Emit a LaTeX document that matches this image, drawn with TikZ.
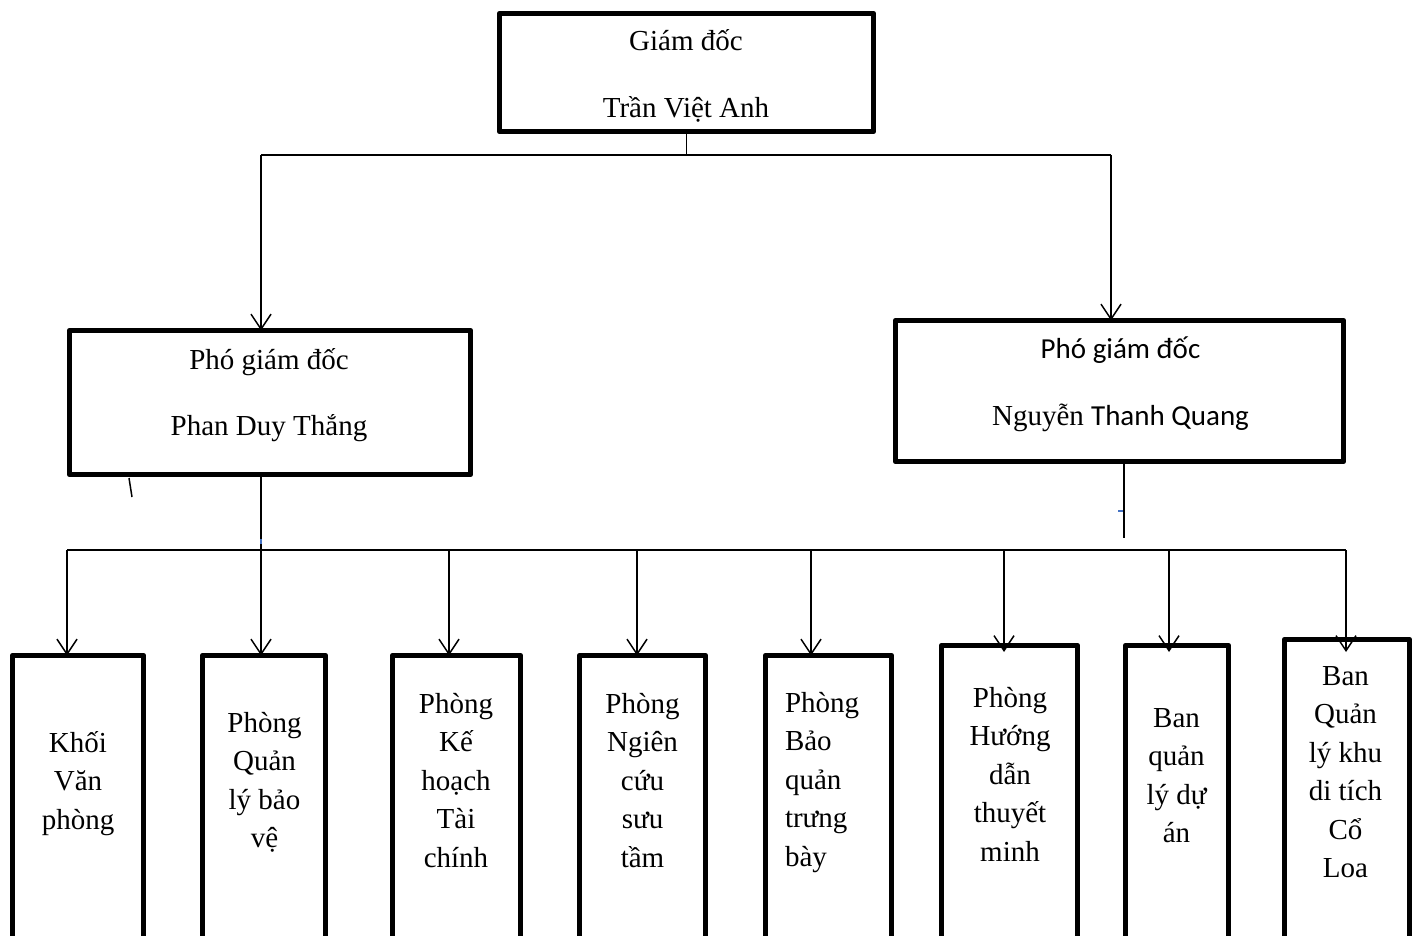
\documentclass[tikz,border=0pt]{standalone}
\usepackage{fontspec}
\setmainfont{Liberation Serif}
\newfontfamily\calibri{Carlito}
\usetikzlibrary{arrows.meta,calc}
\definecolor{tickblue}{RGB}{68,114,196}
\begin{document}
\begin{tikzpicture}[x=0.5pt,y=-0.5pt,
  box/.style={draw, line width=2.75pt, line join=round, inner sep=0pt, outer sep=0pt, anchor=north west},
  lbl/.style={inner sep=0pt, outer sep=0pt, anchor=base, font=\fontsize{14.5}{19.25}\selectfont},
  conn/.style={line width=0.75pt},
  arr/.style={conn, -{Straight Barb[length=7.5pt,width=10pt]}},
  tick/.style={draw=tickblue, line width=1pt}]
\clip (0,0) rectangle (1418,936);
% boxes
\node[box, minimum width=187pt, minimum height=59pt] (gd) at (499.5,13.5) {};
\node[box, minimum width=200.5pt, minimum height=72pt] (lvp) at (69.5,330.5) {};
\node[box, minimum width=224pt, minimum height=70.5pt] (rvp) at (895.5,320.5) {};
\node[box, minimum width=65.5pt, minimum height=152.25pt] (b1) at (12.5,655.5) {};
\node[box, minimum width=61.5pt, minimum height=152.25pt] (b2) at (202.5,655.5) {};
\node[box, minimum width=64pt, minimum height=152.25pt] (b3) at (392.5,655.5) {};
\node[box, minimum width=63pt, minimum height=152.25pt] (b4) at (579.5,655.5) {};
\node[box, minimum width=63pt, minimum height=152.25pt] (b5) at (765.5,655.5) {};
\node[box, minimum width=68pt, minimum height=157.25pt] (b6) at (941.5,645.5) {};
\node[box, minimum width=51.5pt, minimum height=157.25pt] (b7) at (1125.5,645.5) {};
\node[box, minimum width=62.5pt, minimum height=160.25pt] (b8) at (1284.5,639.5) {};
% texts
\node[lbl] (gdt) at (686,51) {\begin{tabular}[t]{@{}c@{}}Giám đốc\\[14.25pt]Trần Việt Anh\end{tabular}};
\node[lbl] (lvpt) at (269,369) {\begin{tabular}[t]{@{}c@{}}Phó giám đốc\\[13.75pt]Phan Duy Thắng\end{tabular}};
\node[lbl] (rvpt) at (1120.5,358) {\begin{tabular}[t]{@{}c@{}}{\calibri Phó giám đốc}\\[14.25pt]Nguyễn {\calibri Thanh Quang}\end{tabular}};
\node[lbl] (t1) at (78,752) {\begin{tabular}[t]{@{}c@{}}Khối\\Văn\\phòng\end{tabular}};
\node[lbl] (t2) at (264.5,732) {\begin{tabular}[t]{@{}c@{}}Phòng\\Quản\\lý bảo\\vệ\end{tabular}};
\node[lbl] (t3) at (456,713) {\begin{tabular}[t]{@{}c@{}}Phòng\\Kế\\hoạch\\Tài\\chính\end{tabular}};
\node[lbl] (t4) at (642.5,713) {\begin{tabular}[t]{@{}c@{}}Phòng\\Ngiên\\cứu\\sưu\\tầm\end{tabular}};
\node[lbl, anchor=base west] (t5) at (785,712) {\begin{tabular}[t]{@{}l@{}}Phòng\\Bảo\\quản\\trưng\\bày\end{tabular}};
\node[lbl] (t6) at (1010,707) {\begin{tabular}[t]{@{}c@{}}Phòng\\Hướng\\dẫn\\thuyết\\minh\end{tabular}};
\node[lbl] (t7) at (1176.5,727) {\begin{tabular}[t]{@{}c@{}}Ban\\quản\\lý dự\\án\end{tabular}};
\node[lbl] (t8) at (1345.5,685) {\begin{tabular}[t]{@{}c@{}}Ban\\Quản\\lý khu\\di tích\\Cổ\\Loa\end{tabular}};
% top connectors
\coordinate (hl) at (261,155);
\coordinate (hr) at (1111,155);
\draw[conn] (gd.south) -- (gd.south |- hl);
\draw[conn] (hl) -- (hr);
\draw[arr] (hl) -- (hl |- lvp.north);
\draw[arr] (hr) -- (hr |- rvp.north);
% bar junctions
\coordinate (j1) at (67,550);
\coordinate (j2) at (261,550);
\coordinate (j3) at (449,550);
\coordinate (j4) at (637,550);
\coordinate (j5) at (811,550);
\coordinate (j6) at (1004,550);
\coordinate (j7) at (1169,550);
\coordinate (j8) at (1346,550);
\coordinate (rv) at (1124,538);
\draw[conn] (j2 |- lvp.south) -- (j2);
\draw[conn] (rv |- rvp.south) -- (rv);
\draw[conn] (j1) -- (j8);
\draw[arr] (j1) -- (j1 |- b1.north);
\draw[arr] (j2) -- (j2 |- b2.north);
\draw[arr] (j3) -- (j3 |- b3.north);
\draw[arr] (j4) -- (j4 |- b4.north);
\draw[arr] (j5) -- (j5 |- b5.north);
\draw[arr] (j6) -- ($(j6 |- b6.north)+(0,6.5)$);
\draw[arr] (j7) -- ($(j7 |- b7.north)+(0,6.5)$);
\draw[arr] (j8) -- ($(j8 |- b8.north)+(0,12.5)$);
% stray marks
\coordinate (s1) at (129,478);
\coordinate (s2) at (132,497);
\draw[conn] (s1) -- (s2);
\coordinate (bt1) at (261,539);
\coordinate (bt2) at (261,544);
\draw[tick] (bt1) -- (bt2);
\coordinate (bt3) at (1118,511);
\coordinate (bt4) at (1123,511);
\draw[tick] (bt3) -- (bt4);
\end{tikzpicture}
\end{document}
